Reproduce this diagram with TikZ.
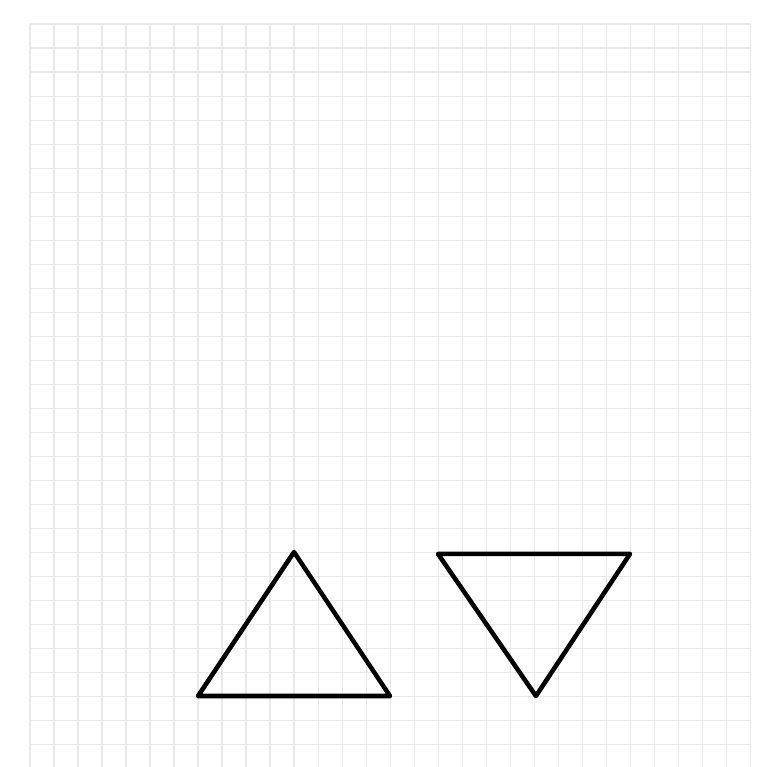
\documentclass[tikz,border=0pt]{standalone}
\usepackage{tikz}
\tikzset{gridline/.style={draw=black!9,line width=0.6pt},
         tri/.style={draw=black,line width=2.7pt,line join=round}}

\begin{document}
\begin{tikzpicture}[x=0.5cm,y=-0.5cm]
\useasboundingbox (-1.25,-1) rectangle (30.667,30.958);
\foreach \i in {0,...,30} \draw [gridline] (\i,0) -- (\i,30.958);
\foreach \j in {0,...,30} \draw [gridline] (0,\j) -- (30,\j);
\draw [tri] (11,22) -- (15,28) -- (7,28) -- cycle;
\draw [tri] (17,22.08) -- (25,22.08) -- (21.08,28) -- cycle;
\end{tikzpicture}
\end{document}
